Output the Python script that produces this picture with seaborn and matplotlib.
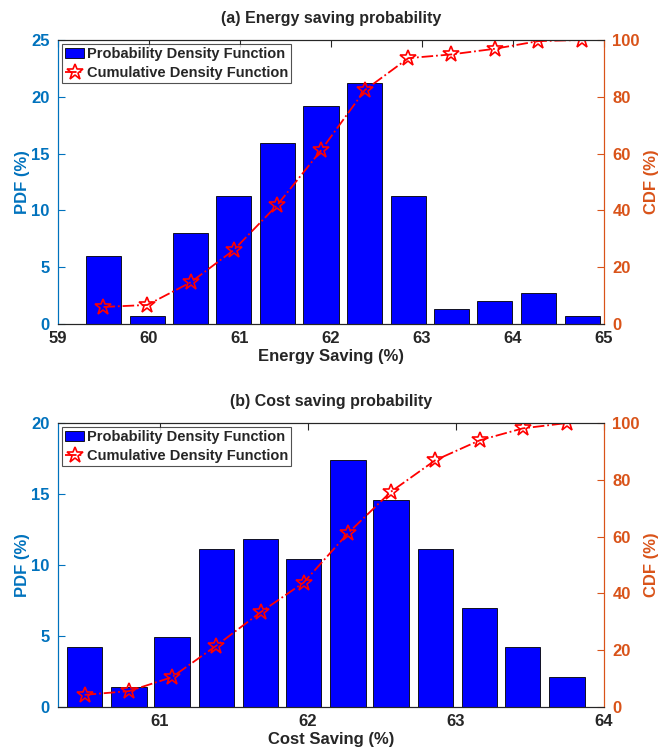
import matplotlib
matplotlib.use("Agg")
import matplotlib.pyplot as plt
import seaborn as sns
import pandas as pd

# energy saving histogram (bin centres, pdf %, cdf %)
energy_bins = [59.50, 59.98, 60.46, 60.93, 61.41, 61.89, 62.37, 62.85, 63.32, 63.80, 64.28, 64.76]
energy_pdf = [6.0, 0.7, 8.0, 11.3, 15.9, 19.2, 21.2, 11.3, 1.3, 2.0, 2.7, 0.7]
energy_cdf = [6.0, 6.7, 14.7, 26.0, 41.9, 61.1, 82.3, 93.6, 94.9, 96.9, 99.6, 100.0]

# cost saving histogram
cost_bins = [60.49, 60.79, 61.08, 61.38, 61.68, 61.97, 62.27, 62.56, 62.86, 63.16, 63.45, 63.75]
cost_pdf = [4.2, 1.4, 4.9, 11.1, 11.8, 10.4, 17.4, 14.6, 11.1, 7.0, 4.2, 2.1]
cost_cdf = [4.3, 5.6, 10.5, 21.6, 33.4, 43.8, 61.2, 75.8, 86.9, 93.9, 98.1, 100.0]

sns.set_style("white")
plt.rcParams['font.family'] = ['Liberation Sans Narrow', 'Liberation Sans', 'DejaVu Sans']
plt.rcParams['font.weight'] = 'bold'

blue_ax = '#0072BD'
orange_ax = '#D95319'

fig = plt.figure(figsize=(6.72, 7.54), dpi=100)


def draw_panel(rect, bins, pdf, cdf, xlim, xticks, ylim_l, yticks_l, xlabel, title):
    ax = fig.add_axes(rect)
    df = pd.DataFrame({'x': bins, 'pdf': pdf, 'cdf': cdf})
    sns.barplot(data=df, x='x', y='pdf', native_scale=True, width=0.82,
                color='#0000FF', saturation=1, edgecolor='black', linewidth=0.6,
                ax=ax, label='Probability Density Function')
    ax.set_xlim(*xlim)
    ax.set_xticks(xticks)
    ax.set_xticklabels([str(t) for t in xticks])
    ax.set_ylim(*ylim_l)
    ax.set_yticks(yticks_l)
    ax.set_xlabel(xlabel, fontsize=12, fontweight='bold', color='#262626', labelpad=2)
    ax.set_ylabel('PDF (%)', fontsize=12, fontweight='bold', color=blue_ax, labelpad=1)
    ax.tick_params(axis='y', colors=blue_ax, labelsize=12, direction='in', length=5, width=0.8, pad=6)
    ax.tick_params(axis='x', colors='#262626', labelsize=12, direction='in', length=5, width=0.8,
                   top=True, pad=5)
    for lab in ax.get_yticklabels() + ax.get_xticklabels():
        lab.set_fontweight('bold')

    ax2 = ax.twinx()
    sns.lineplot(data=df, x='x', y='cdf', ax=ax2, color='red', linestyle='-.', linewidth=1.3,
                 marker='*', markersize=12, markerfacecolor='none', markeredgecolor='red',
                 markeredgewidth=1.2, label='Cumulative Density Function', legend=False)
    ax2.set_ylim(0, 100)
    ax2.set_yticks([0, 20, 40, 60, 80, 100])
    ax2.set_ylabel('CDF (%)', fontsize=12, fontweight='bold', color=orange_ax, labelpad=3)
    ax2.tick_params(axis='y', colors=orange_ax, labelsize=12, direction='in', length=5, width=0.8, pad=6)
    for lab in ax2.get_yticklabels():
        lab.set_fontweight('bold')
    ax2.set_xlim(*xlim)

    for a in (ax, ax2):
        a.spines['left'].set_color(blue_ax)
        a.spines['right'].set_color(orange_ax)
        a.spines['top'].set_color('#262626')
        a.spines['bottom'].set_color('#262626')
        for s in a.spines.values():
            s.set_linewidth(0.8)

    h1, l1 = ax.get_legend_handles_labels()
    h2, l2 = ax2.get_legend_handles_labels()
    if ax.get_legend() is not None:
        ax.get_legend().remove()
    leg = ax2.legend(h1 + h2, l1 + l2, loc='upper left', fontsize=10.5, frameon=True,
                     fancybox=False, edgecolor='#262626', borderpad=0.2, handlelength=1.3,
                     handletextpad=0.2, labelspacing=0.3, borderaxespad=0.3)
    leg.get_frame().set_linewidth(0.8)
    for t in leg.get_texts():
        t.set_fontweight('bold')
    ax.set_title(title, fontsize=11.5, fontweight='bold', pad=12)
    return ax


draw_panel([0.0863, 0.5703, 0.8125, 0.3767], energy_bins, energy_pdf, energy_cdf,
           (59, 65), [59, 60, 61, 62, 63, 64, 65], (0, 25), [0, 5, 10, 15, 20, 25],
           'Energy Saving (%)', '(a) Energy saving probability')
draw_panel([0.0863, 0.0623, 0.8125, 0.3767], cost_bins, cost_pdf, cost_cdf,
           (60.31, 64.0), [61, 62, 63, 64], (0, 20), [0, 5, 10, 15, 20],
           'Cost Saving (%)', '(b) Cost saving probability')

fig.savefig('out.png', dpi=100)
